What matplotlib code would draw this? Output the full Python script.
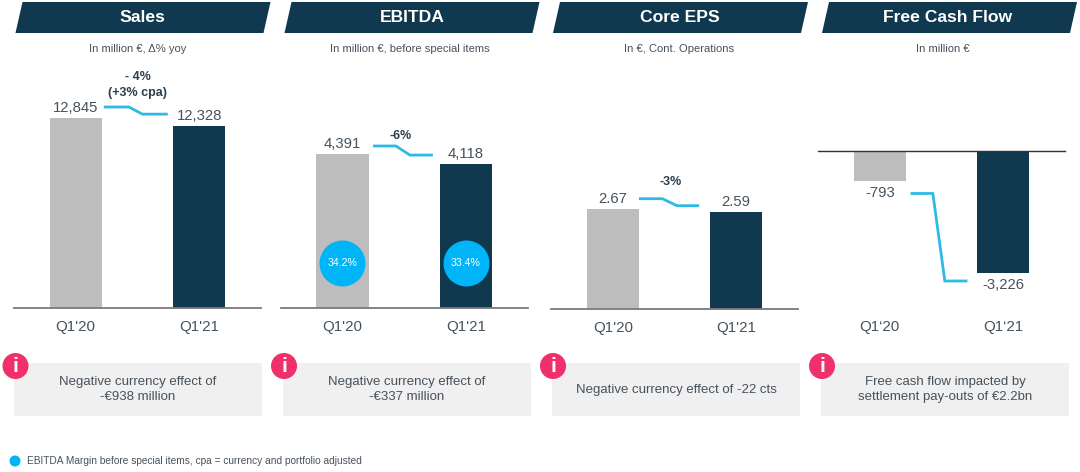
import matplotlib
matplotlib.use('Agg')
import matplotlib.pyplot as plt
from matplotlib.patches import Polygon, Rectangle, Circle

plt.rcParams['font.family'] = ['Liberation Sans', 'DejaVu Sans']

# Data
titles = ['Sales', 'EBITDA', 'Core EPS', 'Free Cash Flow']
subtitles = ['In million €, Δ% yoy', 'In million €, before special items',
             'In €, Cont. Operations', 'In million €']
quarters = [["Q1'20", "Q1'21"], ["Q1'20", "Q1'21"], ["Q1'20", "Q1'21"], ["Q1‘20", "Q1‘21"]]
sales = [12845, 12328]
ebitda = [4391, 4118]
core_eps = [2.67, 2.59]
free_cash_flow = [-793, -3226]
value_labels = [['12,845', '12,328'], ['4,391', '4,118'], ['2.67', '2.59'], ['-793', '-3,226']]
ebitda_margin = ['34.2%', '33.4%']
changes = ['- 4%\n(+3% cpa)', '-6%', '-3%', '']
notes = ['Negative currency effect of\n-€938 million',
         'Negative currency effect of\n-€337 million',
         'Negative currency effect of -22 cts',
         'Free cash flow impacted by\nsettlement pay-outs of €2.2bn']
footnote = 'EBITDA Margin before special items, cpa = currency and portfolio adjusted'

NAVY = '#10384f'
GREY = '#bdbdbd'
CYAN = '#2dbbe6'
BLUE = '#00b5f7'
PINK = '#f0306a'
TEXT = '#47525c'
W, H = 1080, 472

fig = plt.figure(figsize=(W / 100, H / 100), dpi=100, facecolor='white')

# Background layer in pixel coordinates for headers and note boxes
bg = fig.add_axes([0, 0, 1, 1])
bg.set_xlim(0, W)
bg.set_ylim(H, 0)
bg.axis('off')

header_x = [15.5, 284.5, 553, 822]
title_x = [142, 412, 680, 948]
subtitle_x = [137.5, 410, 679.5, 943]
note_x = [14, 283, 552, 821]
icon_x = [15.5, 284, 553, 822]

for i in range(4):
    x = header_x[i]
    bg.add_patch(Polygon([(x, 33), (x + 7, 2), (x + 255, 2), (x + 248, 33)], color=NAVY, lw=0))
    bg.text(title_x[i], 18, titles[i], color='white', fontsize=12.6, fontweight='bold',
            ha='center', va='center')
    bg.text(subtitle_x[i], 48.5, subtitles[i], color=TEXT, fontsize=8.1, ha='center', va='center')

    bg.add_patch(Rectangle((note_x[i], 363), 248, 53, color='#f0f0f0', lw=0))
    bg.text(note_x[i] + 124, 389.5, notes[i], color=TEXT, fontsize=9.5, ha='center',
            va='center', linespacing=1.42)
    bg.add_patch(Circle((icon_x[i], 366), 13, color=PINK, lw=0, zorder=3))
    bg.text(icon_x[i], 366, 'i', color='white', fontsize=15, fontweight='bold',
            ha='center', va='center', zorder=4)

bg.add_patch(Circle((15, 461), 5.5, color=BLUE, lw=0))
bg.text(27, 461, footnote, color=TEXT, fontsize=7.3, ha='left', va='center')

# One axes per panel, bars go through its own scale
panel_values = [sales, ebitda, core_eps, free_cash_flow]
panel_left = [14, 280.6, 551, 818]
panel_zero = [308, 308, 308.7, 151]
px_per_unit = [190 / 12845, 154 / 4391, 100 / 2.67, 122 / 3226]
trend_x = [[0.227, 0.43, 0.54, 0.745], [0.248, 0.434, 0.547, 0.733],
           [0.212, 0.402, 0.52, 0.70], [0.249, 0.43, 0.527, 0.71]]
trend_off = [[11, 11.5], [8, 8.5], [10, 6], [-12.5, -8]]
change_pos = [(0.5, 85), (0.475, 136), (0.465, 182)]

for i in range(4):
    vals = panel_values[i]
    scale = px_per_unit[i]
    negative = vals[0] < 0
    if negative:
        top_px, bottom_px = panel_zero[i], 307
        ylim = (-(bottom_px - top_px) / scale, 0)
    else:
        top_px, bottom_px = 60, panel_zero[i]
        ylim = (0, (bottom_px - top_px) / scale)

    ax = fig.add_axes([panel_left[i] / W, 1 - bottom_px / H, 247 / W, (bottom_px - top_px) / H])
    ax.patch.set_alpha(0)
    ax.bar([0, 1], vals, width=0.425, color=[GREY, NAVY], zorder=2)
    ax.set_xlim(-0.5, 1.5)
    ax.set_ylim(*ylim)
    ax.set_yticks([])
    ax.set_xticks([0, 1])
    ax.set_xticklabels(quarters[i], fontsize=10.9, color=TEXT)
    ax.tick_params(axis='x', length=0, pad=9)
    for side in ['left', 'right', 'top', 'bottom']:
        ax.spines[side].set_visible(False)
    line = ax.spines['top'] if negative else ax.spines['bottom']
    line.set_visible(True)
    line.set_linewidth(1.0 if negative else 1.3)
    line.set_color('#333333' if negative else '#7a7a7a')
    line.set_zorder(3)

    for j in range(2):
        off = -12 if negative else 9.5
        ax.annotate(value_labels[i][j], (j, vals[j]), xytext=(0, off * 0.72),
                    textcoords='offset points', ha='center', va='center',
                    fontsize=10.7, color=TEXT, annotation_clip=False)

    # Change arrow between both bars
    lv1 = vals[0] + trend_off[i][0] / scale
    lv2 = vals[1] + trend_off[i][1] / scale
    ax.plot(trend_x[i], [lv1, lv1, lv2, lv2], color=CYAN, lw=2, clip_on=False,
            solid_capstyle='butt', solid_joinstyle='miter', zorder=4)

    if changes[i]:
        cx, cy = change_pos[i]
        ax.text(cx, (bottom_px - cy) / scale, changes[i],
                color='#2e3f4c', fontsize=9, fontweight='bold', ha='center', va='center',
                linespacing=1.45)

    # EBITDA margin bubbles
    if i == 1:
        ax.scatter([0, 1], [45 / scale, 45 / scale], s=1097, color=BLUE, lw=0, zorder=5)
        for j in range(2):
            ax.text(j, 45 / scale, ebitda_margin[j], color='white', fontsize=7.6,
                    ha='center', va='center', zorder=6)

fig.savefig('out.png', dpi=100)
